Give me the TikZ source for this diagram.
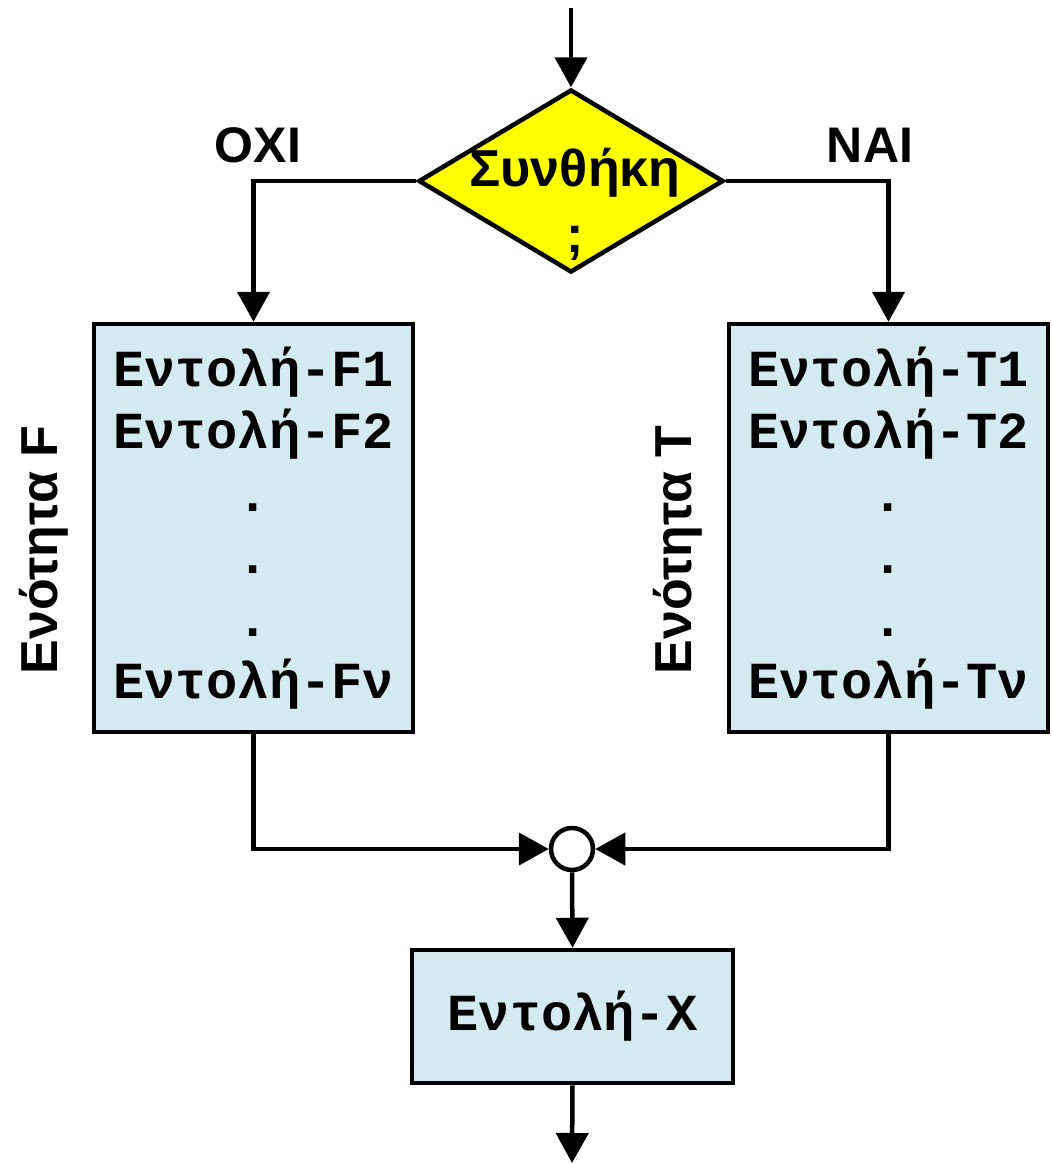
\documentclass[tikz,border=0pt]{standalone}
\usepackage{fontspec}
\setmainfont{Liberation Sans}
\setmonofont{Liberation Mono}
\usetikzlibrary{arrows.meta,shapes.geometric,positioning}
\definecolor{boxblue}{RGB}{210,234,240}
\definecolor{condyellow}{RGB}{255,255,0}

\begin{document}
\begin{tikzpicture}[x=1pt,y=-1pt,line width=4.5pt,>={Triangle[length=30pt,width=32pt]},
    cmdbox/.style={draw,fill=boxblue,align=center,inner sep=0pt,
      font=\fontsize{52}{62.5}\selectfont\ttfamily\bfseries},
    lbl/.style={align=center,font=\fontsize{50}{63}\selectfont\bfseries}]
          \useasboundingbox (0,0) rectangle (1052,1163);
          % condition
          \coordinate (start) at (571,8);
          \node[diamond,draw,fill=condyellow,inner sep=0pt,minimum width=305pt,minimum height=183pt] (cond) at (571,181) {};
          \node[lbl,font=\fontsize{52}{66}\selectfont\bfseries] (condtext) at (575,204) {Συνθήκη\\;};
          \node[lbl] (no) at (258,145) {OXI};
          \node[lbl] (yes) at (870,145) {NAI};
          % blocks
          \node[cmdbox,minimum width=319pt,minimum height=408pt] (fbox) at (253.5,528) {Εντολή-F1\\Εντολή-F2\\.\\.\\.\\Εντολή-Fν};
          \node[cmdbox,minimum width=319pt,minimum height=408pt] (tbox) at (888.5,528) {Εντολή-T1\\Εντολή-T2\\.\\.\\.\\Εντολή-Tν};
          \node[lbl,font=\fontsize{52}{60}\selectfont\bfseries,rotate=90] (flabel) at (44,550) {Ενότητα F};
          \node[lbl,font=\fontsize{52}{60}\selectfont\bfseries,rotate=90] (tlabel) at (678,550) {Ενότητα T};
          % join and next command
          \node[circle,draw,fill=white,inner sep=0pt,minimum size=42pt] (join) at (572,849) {};
          \node[cmdbox,minimum width=321pt,minimum height=133pt] (xbox) at (572.5,1016.5) {Εντολή-X};
          \coordinate (finish) at (572,1163);
          % connectors
          \draw[->] (start) -- (cond.north);
          \draw[->] (cond.west) -| (fbox.north);
          \draw[->] (cond.east) -| (tbox.north);
          \draw[->] (fbox.south) |- (join.west);
          \draw[->] (tbox.south) |- (join.east);
          \draw[->] (join.south) -- (xbox.north);
          \draw[->] (xbox.south) -- (finish);
        \end{tikzpicture}
\end{document}
